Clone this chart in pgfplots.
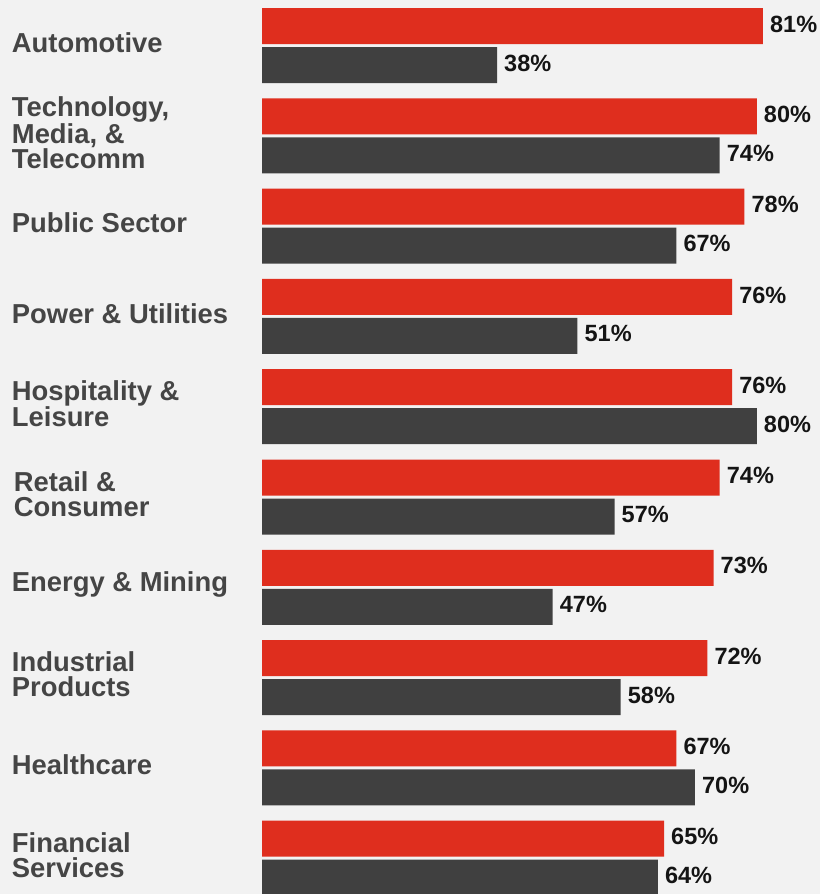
\documentclass[border=0pt]{standalone}
\usepackage{pgfplots}
\pgfplotsset{compat=1.18}
\usepackage{fontspec}
\setmainfont{Liberation Sans}
\definecolor{bgcol}{HTML}{F2F2F2}
\definecolor{redbar}{HTML}{DF2E1E}
\definecolor{greybar}{HTML}{404040}
\definecolor{labcol}{HTML}{454545}
\definecolor{valcol}{HTML}{141414}
\begin{document}
\begin{tikzpicture}
\path[use as bounding box, fill=bgcol] (0,0) rectangle (820pt,894pt);
\begin{axis}[
    at={(262pt,0pt)}, anchor=south west,
    scale only axis,
    width=558pt, height=894pt,
    xmin=0, xmax=90.22,
    ymin=-0.396, ymax=9.504,
    xbar, bar width=36pt,
    clip=false,
    axis line style={draw=none},
    tick style={draw=none},
    xtick=\empty,
    ytick={0,...,9},
    yticklabels={
        {Financial\\Services},
        {Healthcare},
        {Industrial\\Products},
        {Energy \& Mining},
        {\hspace*{2pt}Retail \&\\\hspace*{2pt}Consumer},
        {Hospitality \&\\Leisure},
        {Power \& Utilities},
        {Public Sector},
        {Technology,\\Media, \&\\Telecomm},
        {Automotive}
    },
    yticklabel style={anchor=west, xshift=-246pt, yshift=3pt, inner sep=0pt, align=left,
        font=\bfseries\fontsize{27.4}{25}\selectfont, text=labcol},
    /pgf/number format/assume math mode=true,
    nodes near coords={\pgfmathprintnumber{\pgfplotspointmeta}\%},
    nodes near coords align={horizontal},
    every node near coord/.append style={font=\bfseries\fontsize{23.5}{24}\selectfont,
        text=valcol, inner sep=0pt, xshift=7pt, yshift=2pt},
]
\addplot[fill=redbar, draw=none, bar shift=19.5pt] coordinates {
    (81,9) (80,8) (78,7) (76,6) (76,5) (74,4) (73,3) (72,2) (67,1) (65,0)};
\addplot[fill=greybar, draw=none, bar shift=-19.5pt] coordinates {
    (38,9) (74,8) (67,7) (51,6) (80,5) (57,4) (47,3) (58,2) (70,1) (64,0)};
\end{axis}
\end{tikzpicture}
\end{document}
